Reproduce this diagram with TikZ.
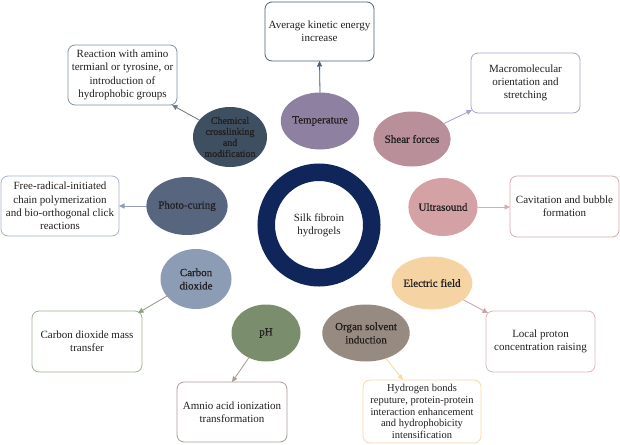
\documentclass[tikz,border=0pt]{standalone}
\usepackage{fontspec}
\setmainfont{Liberation Serif}
\newfontfamily\semibfont[FakeBold=0.7]{Liberation Serif}
\usetikzlibrary{shapes.geometric,arrows.meta}
\definecolor{txt}{HTML}{231F20}
\definecolor{cRing}{HTML}{10265A}
\definecolor{cChem}{HTML}{3E4F62}
\definecolor{cPhoto}{HTML}{57657F}
\definecolor{cTemp}{HTML}{8E80A1}
\definecolor{cShear}{HTML}{B98F99}
\definecolor{cUltra}{HTML}{D4A1A5}
\definecolor{cElec}{HTML}{F5D3A3}
\definecolor{cOrgan}{HTML}{978B81}
\definecolor{cPH}{HTML}{7A8E6D}
\definecolor{cCO}{HTML}{8C9CB4}
\definecolor{bAvg}{HTML}{4C6075}
\definecolor{bReact}{HTML}{7F8FA6}
\definecolor{bMacro}{HTML}{ABA0CC}
\definecolor{bCav}{HTML}{D9AAB2}
\definecolor{bLocal}{HTML}{E3B3BD}
\definecolor{bHyd}{HTML}{F8D9AA}
\definecolor{bAmnio}{HTML}{AB9E94}
\definecolor{bCO}{HTML}{9DB394}
\definecolor{bFree}{HTML}{A3B0CA}
\begin{document}
\begin{tikzpicture}[x=1pt,y=-1pt,
  font=\fontsize{11}{13.3}\selectfont,
  ell/.style={ellipse, inner sep=0pt, outer sep=0pt, text=txt, align=center, font=\semibfont\fontsize{11}{13.3}\selectfont},
  box/.style={rectangle, rounded corners=7pt, line width=0.8pt, fill=white, text=txt, align=center, inner sep=0pt, outer sep=0pt},
  arr/.style={line width=0.8pt, -{Triangle[length=5.5pt,width=5pt]}},
]
\useasboundingbox[fill=white] (0,0) rectangle (620,444);

% central ring
\node[circle, draw=cRing, line width=17.5pt, minimum size=105.5pt, inner sep=0pt, text=txt, align=center] (ring) at (319,225) {Silk fibroin\\hydrogels};

% ellipses
\node[ell, fill=cTemp, minimum width=70pt, minimum height=57pt] (temp) at (320,121) {Temperature};
\node[ell, fill=cChem, minimum width=74pt, minimum height=60pt, font=\semibfont\fontsize{10}{11}\selectfont] (chem) at (230,137) {Chemical\\crosslinking\\and\\modification};
\node[ell, fill=cShear, minimum width=70pt, minimum height=55pt] (shear) at (412,139) {Shear forces};
\node[ell, fill=cPhoto, minimum width=64pt, minimum height=58pt] (photo) at (187,206) {Photo-curing};
\node[ell, fill=cUltra, minimum width=67pt, minimum height=58pt] (ultra) at (443,207) {Ultrasound};
\node[ell, fill=cCO, minimum width=71pt, minimum height=60pt] (co) at (196,279) {Carbon\\dioxide};
\node[ell, fill=cElec, minimum width=70pt, minimum height=53pt] (elec) at (432,283) {Electric field};
\node[ell, fill=cPH, minimum width=69pt, minimum height=57pt] (ph) at (266,333) {pH};
\node[ell, fill=cOrgan, minimum width=70pt, minimum height=57pt] (organ) at (366,333) {Organ solvent\\induction};

% boxes
\node[box, draw=bAvg, minimum width=109pt, minimum height=59pt] (avg) at (319.5,31.5) {Average kinetic energy\\increase};
\node[box, draw=bReact, minimum width=109pt, minimum height=60pt] (react) at (122.5,75) {Reaction with amino\\termianl or tyrosine, or\\introduction of\\hydrophobic groups};
\node[box, draw=bMacro, minimum width=109pt, minimum height=60pt] (macro) at (525.5,83) {Macromolecular\\orientation and\\stretching};
\node[box, draw=bFree, minimum width=118pt, minimum height=60pt] (free) at (60,206) {Free-radical-initiated\\chain polymerization\\and bio-orthogonal click\\reactions};
\node[box, draw=bCav, minimum width=109pt, minimum height=61pt] (cav) at (564.5,206.5) {Cavitation and bubble\\formation};
\node[box, draw=bCO, minimum width=110pt, minimum height=61pt] (cobox) at (87,341.5) {Carbon dioxide mass\\transfer};
\node[box, draw=bLocal, minimum width=109pt, minimum height=61pt] (local) at (540.5,341.5) {Local proton\\concentration raising};
\node[box, draw=bAmnio, minimum width=110pt, minimum height=60pt] (amnio) at (232,412) {Amnio acid ionization\\transformation};
\node[box, draw=bHyd, minimum width=118pt, minimum height=63pt, font=\fontsize{10.5}{11.7}\selectfont] (hyd) at (422,411.5) {Hydrogen bonds\\reputure, protein-protein\\interaction enhancement\\and hydrophobicity\\intensification};

% connectors
\draw[arr, draw=bAvg, fill=bAvg] (temp.north) -- (avg.south);
\draw[arr, draw=cChem!75, fill=cChem!75] (chem) -- ([xshift=-5pt]react.south east);
\draw[arr, draw=bMacro, fill=bMacro] (shear) -- ([xshift=1pt,yshift=3pt]macro.south west);
\draw[arr, draw=bCav, fill=bCav] (ultra.east) -- (cav.west |- ultra.east);
\draw[arr, draw=bFree!90!black, fill=bFree!90!black] (photo.west) -- (free.east |- photo.west);
\draw[arr, draw=bLocal!90!black, fill=bLocal!90!black] (elec) -- ([xshift=2pt,yshift=-2pt]local.north west);
\draw[arr, draw=bHyd, fill=bHyd] (organ) -- ([xshift=-19pt]hyd.north);
\draw[arr, draw=bAmnio, fill=bAmnio] (ph) -- (amnio.north);
\draw[arr, draw=bCO!90!black, fill=bCO!90!black] (co) -- ([xshift=-4pt,yshift=-2pt]cobox.north east);
\end{tikzpicture}
\end{document}
